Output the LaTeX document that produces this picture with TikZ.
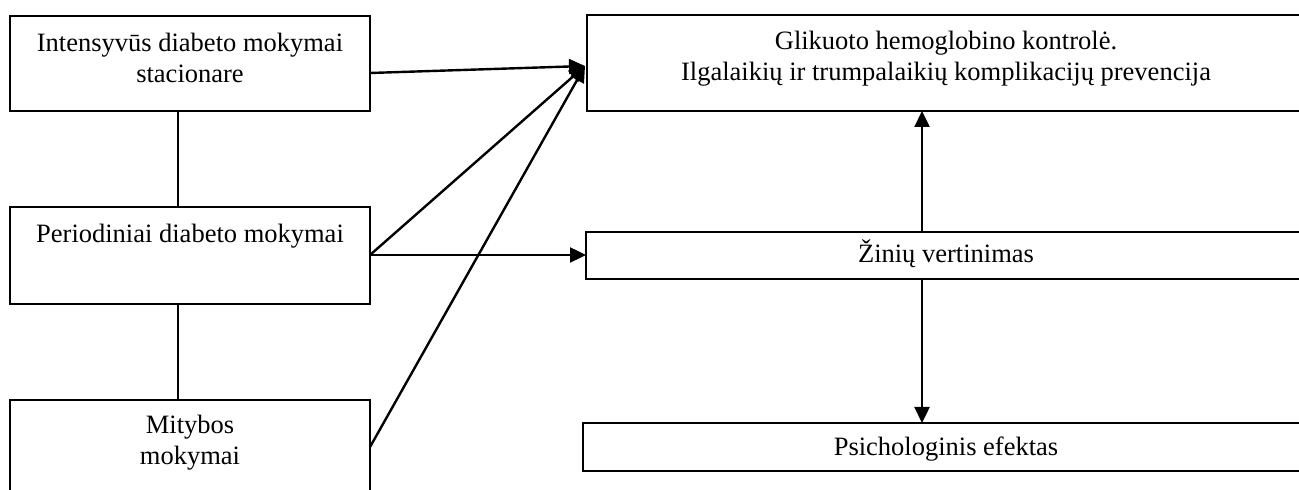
\documentclass[tikz,border=0pt]{standalone}
\usepackage{fontspec}
\setmainfont{Liberation Serif}
\usetikzlibrary{arrows.meta}
\begin{document}
\begin{tikzpicture}[x=0.5pt,y=-0.5pt,
  box/.style={draw,line width=1.2pt,rectangle,inner sep=0pt,outer sep=0pt},
  txt/.style={anchor=base,inner sep=0pt,align=center,
    font=\fontsize{13.25pt}{15.5pt}\selectfont},
  link/.style={line width=1.2pt},
  arr/.style={line width=1.2pt,-{Triangle[length=8pt,width=7.5pt]}}]
  \useasboundingbox (0,0) rectangle (1299,490);
  \clip (0,0) rectangle (1299,490);

  % left column
  \node[box,minimum width=180pt,minimum height=47.5pt] (b1) at (190,63.5) {};
  \node[box,minimum width=180pt,minimum height=48.5pt] (b2) at (190,255.5) {};
  \node[box,minimum width=180pt,minimum height=50pt] (b3) at (190,450) {};

  % right column
  \node[box,minimum width=359pt,minimum height=48pt] (r1) at (946,63) {};
  \node[box,minimum width=360pt,minimum height=23.5pt] (r2) at (946,255.5) {};
  \node[box,minimum width=363pt,minimum height=24pt] (r3) at (946,447) {};

  % texts (base anchor sits on the last line)
  \node[txt] (t1) at (190,83) {Intensyvūs diabeto mokymai\\stacionare};
  \node[txt] (t2) at (190,243) {Periodiniai diabeto mokymai};
  \node[txt] (t3) at (190,465) {Mitybos\\mokymai};
  \node[txt] (t4) at (946,81) {Glikuoto hemoglobino kontrolė.\\Ilgalaikių ir trumpalaikių komplikacijų prevencija};
  \node[txt] (t5) at (946,263) {Žinių vertinimas};
  \node[txt] (t6) at (946,456) {Psichologinis efektas};

  % helper points
  \coordinate (vl) at (178,0);
  \coordinate (vr) at (922,0);
  \coordinate (tip) at (585,66);

  % links between the left boxes
  \draw[link] (b1.south -| vl) -- (b2.north -| vl);
  \draw[link] (b2.south -| vl) -- (b3.north -| vl);

  % arrows into the top right box
  \draw[arr] (b1.east |- 0,73) -- (tip);
  \draw[arr] (b2.east |- 0,255) -- (tip);
  \draw[arr] (b3.east |- 0,447) -- (tip);

  % arrow into the middle right box
  \draw[arr] (b2.east |- 0,255) -- (r2.west |- 0,255);

  % arrows out of the middle right box
  \draw[arr] (r2.north -| vr) -- (r1.south -| vr);
  \draw[arr] (r2.south -| vr) -- (r3.north -| vr);
\end{tikzpicture}
\end{document}
